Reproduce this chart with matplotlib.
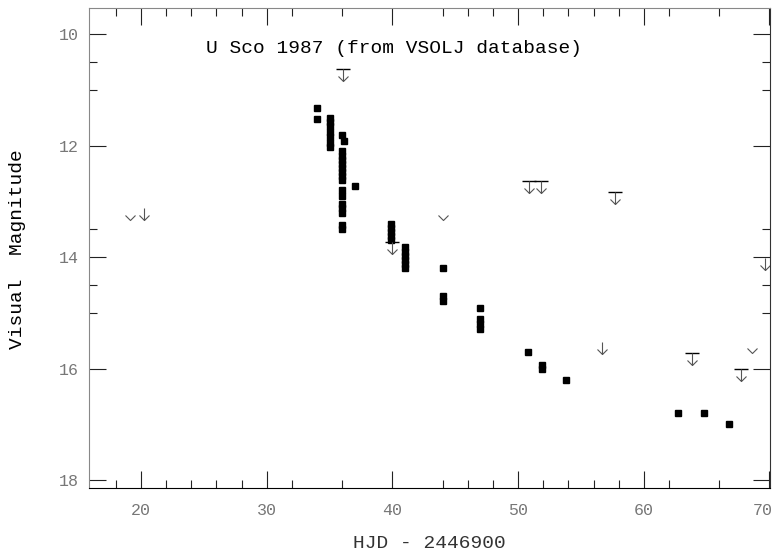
import matplotlib
matplotlib.use('Agg')
import matplotlib.pyplot as plt
import matplotlib.transforms as mtransforms
from matplotlib.path import Path

# visual estimates (HJD - 2446900, magnitude)
obs_day = [34.0, 34.0,
           35.0, 35.0, 35.0, 35.0, 35.0, 35.0, 35.0,
           36.0, 36.15, 36.0, 36.0, 36.0, 36.0, 36.0, 36.0, 36.0, 36.0,
           36.0, 36.0, 36.0, 36.0, 36.0, 36.0, 36.0,
           37.0,
           39.9, 39.9, 39.9, 39.9, 39.9,
           41.0, 41.0, 41.0, 41.0, 41.0, 41.0,
           44.0, 44.0, 44.0,
           47.0, 47.0, 47.0, 47.0,
           50.8, 51.9, 51.9, 53.8,
           62.7, 64.8, 66.8]
obs_mag = [11.32, 11.53,
           11.50, 11.58, 11.65, 11.75, 11.85, 11.95, 12.02,
           11.80, 11.92, 12.10, 12.18, 12.25, 12.32, 12.40, 12.48, 12.55, 12.62,
           12.80, 12.90, 13.05, 13.12, 13.20, 13.42, 13.50,
           12.73,
           13.40, 13.47, 13.55, 13.62, 13.70,
           13.82, 13.90, 13.98, 14.05, 14.12, 14.20,
           14.20, 14.70, 14.78,
           14.92, 15.10, 15.20, 15.28,
           15.70, 15.93, 16.00, 16.20,
           16.80, 16.80, 17.00]

# "fainter than" estimates
lim_bar_day = [36.03, 39.95, 50.9, 51.8, 57.7, 63.8, 67.7]
lim_bar_mag = [10.63, 13.72, 12.63, 12.63, 12.83, 15.71, 16.01]
lim_arrow_day = [20.2, 56.65, 69.64]
lim_arrow_mag = [13.12, 15.52, 14.02]
lim_head_day = [19.1, 44.0, 68.6]
lim_head_mag = [13.12, 13.12, 15.50]

x_major = [20, 30, 40, 50, 60, 70]
x_minor = [18, 22, 24, 26, 28, 32, 36, 44, 46, 48, 52, 54, 56, 58, 62, 66]
y_major = [10, 12, 14, 16, 18]
y_minor = [10.5, 11, 13.5, 14.5, 15]

MONO = 'Liberation Mono'

M, L = Path.MOVETO, Path.LINETO
arrow = Path([(0, 0), (0, -12), (-5, -7), (0, -12), (5, -7)], [M, L, M, L, L])
head = Path([(-5, -7), (0, -12), (5, -7)], [M, L, L])

fig = plt.figure(figsize=(7.76, 5.56), dpi=100)
ax = fig.add_axes([89 / 776, 68 / 556, 681 / 776, 480 / 556])

ax.plot(obs_day, obs_mag, ls='none', marker='s', ms=5, color='k')

ax.plot(lim_bar_day, lim_bar_mag, ls='none', marker='_', ms=9.5, mec='k', mew=1)
ax.plot(lim_bar_day, lim_bar_mag, ls='none', marker=arrow, ms=17.3,
        mfc='none', mec='#555', mew=0.8)
ax.plot(lim_arrow_day, lim_arrow_mag, ls='none', marker=arrow, ms=17.3,
        mfc='none', mec='#555', mew=0.8)
ax.plot(lim_head_day, lim_head_mag, ls='none', marker=head, ms=17.3,
        mfc='none', mec='#555', mew=0.8)

ax.set_xlim(15.86, 70.04)
ax.set_ylim(18.14, 9.53)

ax.set_xticks(x_major)
ax.set_xticks(x_minor, minor=True)
ax.set_yticks(y_major)
ax.set_yticks(y_minor, minor=True)
ax.tick_params(which='both', direction='in', top=True, right=True,
               width=0.8, color='#222')
ax.tick_params(which='major', length=12)
ax.tick_params(which='minor', length=6)
ax.tick_params(axis='x', pad=11)
ax.tick_params(axis='y', pad=7)
for lab in ax.get_xticklabels() + ax.get_yticklabels():
    lab.set_family(MONO)
    lab.set_fontsize(12)
    lab.set_color('#777')

# last x label sits snug against the right edge
last = ax.get_xticklabels()[-1]
last.set_transform(last.get_transform() +
                   mtransforms.ScaledTranslation(-5 / 72, 0, fig.dpi_scale_trans))

for side, c in [('left', '#888'), ('top', '#888'), ('bottom', 'k'), ('right', '#333')]:
    ax.spines[side].set_color(c)
    ax.spines[side].set_linewidth(0.8)

ax.text(40.1, 10.25, 'U Sco 1987 (from VSOLJ database)', ha='center', va='center',
        family=MONO, fontsize=14)
ax.set_xlabel('HJD - 2446900', family=MONO, fontsize=14, color='#333')
ax.xaxis.set_label_coords(0.5, -0.098)
ax.set_ylabel('Visual  Magnitude', family=MONO, fontsize=14)
ax.yaxis.set_label_coords(-0.092, 0.498)

fig.savefig('out.png', dpi=100)
